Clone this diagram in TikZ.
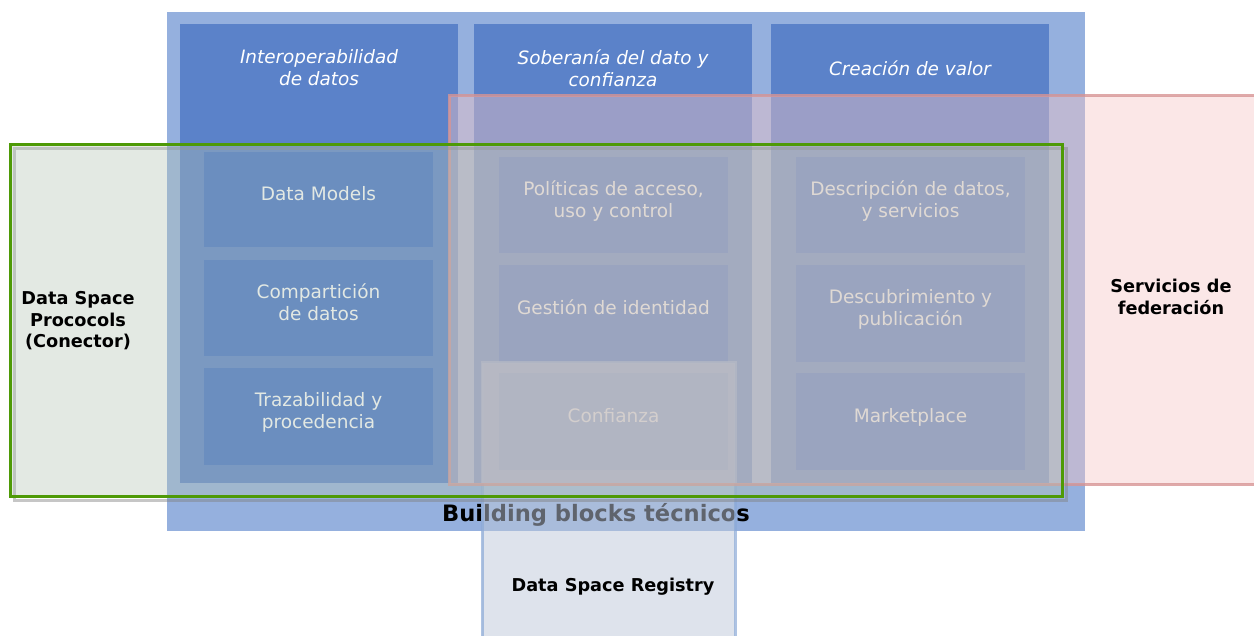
\documentclass[tikz,border=0pt]{standalone}
\usepackage{fontspec}
\setmainfont{DejaVu Sans}
\usetikzlibrary{positioning}

\definecolor{fondo}{HTML}{95B0DE}
\definecolor{columna}{HTML}{5B82C9}
\definecolor{bloque}{HTML}{4170C7}
\definecolor{rojo}{RGB}{245,197,198}
\definecolor{bordeRojo}{RGB}{215,148,148}
\definecolor{verde}{RGB}{179,195,180}
\definecolor{bordeVerde}{RGB}{78,154,6}
\definecolor{registro}{RGB}{190,200,218}
\definecolor{bordeRegistro}{RGB}{140,170,215}
\newcommand{\bajo}{\rule[-12pt]{0pt}{12pt}}

\begin{document}
\begin{tikzpicture}[x=1pt,y=-1pt,
    caja/.style={rectangle, inner sep=0pt, outer sep=0pt, anchor=north west},
    columna/.style={caja, fill=columna, minimum width=278pt, minimum height=459pt},
    bloque/.style={caja, fill=bloque, text=white, align=center,
        minimum width=229pt, minimum height=97pt, font=\fontsize{18.5}{22}\selectfont},
    cabecera/.style={text=white, align=center, font=\fontsize{18.4}{22}\selectfont\itshape},
    etiqueta/.style={align=center, font=\fontsize{17.7}{21.5}\selectfont\bfseries}]
    \useasboundingbox (0,0) rectangle (1254,636);

    % marco azul
    \node[caja, fill=fondo, minimum width=918pt, minimum height=519pt] (marco) at (167,12) {};

    % columnas
    \node[columna] (interop) at (180,24) {};
    \node[columna] (soberania) at (474,24) {};
    \node[columna] (valor) at (771,24) {};
    \coordinate (fila) at (0,68);
    \node[cabecera] (t-interop) at (interop.north |- fila) {Interoperabilidad\\de datos};
    \node[cabecera] (t-soberania) at (soberania.north |- fila) {Soberanía del dato y\\confianza};
    \node[cabecera] (t-valor) at (valor.north |- fila) {Creación de valor};

    % bloques
    \node[bloque, minimum height=95pt] (models) at (204,152) {Data Models\bajo};
    \node[bloque, minimum height=96pt] (comparticion) at (204,260) {Compartición\\de datos\bajo};
    \node[bloque] (trazabilidad) at (204,368) {Trazabilidad y\\procedencia\bajo};
    \node[bloque, minimum height=96pt] (politicas) at (499,157) {Políticas de acceso,\\uso y control\bajo};
    \node[bloque] (identidad) at (499,265) {Gestión de identidad\bajo};
    \node[bloque] (confianza) at (499,373) {Confianza\bajo};
    \node[bloque, minimum height=96pt] (descripcion) at (796,157) {Descripción de datos,\\y servicios\bajo};
    \node[bloque] (descubrimiento) at (796,265) {Descubrimiento y\\publicación\bajo};
    \node[bloque] (marketplace) at (796,373) {Marketplace\bajo};

    \node[font=\fontsize{22.6}{26}\selectfont\bfseries] (t-marco) at (596,515) {Building blocks técnicos};

    % capas
    \node[caja, fill=registro, fill opacity=.5, draw=bordeRegistro, draw opacity=.7, line width=3pt,
        minimum width=253pt, minimum height=290pt] (registry) at (482,363) {};
    \node[caja, fill=rojo, fill opacity=.42, draw=bordeRojo, draw opacity=.8, line width=3pt,
        minimum width=815pt, minimum height=388pt] (federacion) at (449,96) {};
    \draw[gray, opacity=.45, line width=3pt] ([shift={(4,4)}]10,145) rectangle ([shift={(4,4)}]1062,496);
    \node[caja, fill=verde, fill opacity=.37, draw=bordeVerde, line width=3pt,
        minimum width=1052pt, minimum height=351pt] (conector) at (10,145) {};

    \node[etiqueta] (t-conector) at (78,321) {Data Space\\Prococols\\(Conector)};
    \node[etiqueta] (t-federacion) at (1171,297) {Servicios de\\federación};
    \node[etiqueta] (t-registry) at (613,587) {Data Space Registry};
\end{tikzpicture}
\end{document}
